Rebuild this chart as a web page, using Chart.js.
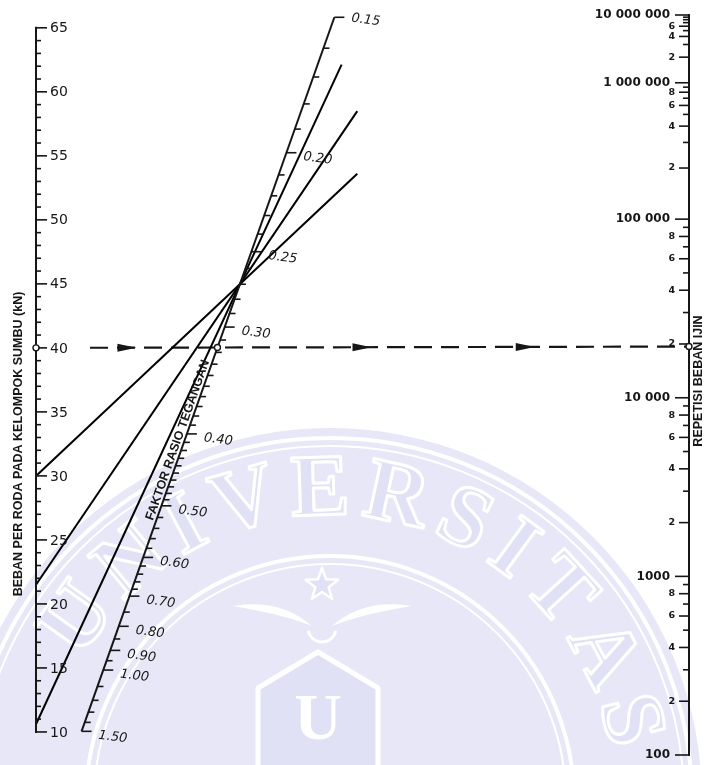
<!DOCTYPE html>
<html>
<head>
<meta charset="utf-8">
<title>Nomogram beban repetisi ijin</title>
<script src="https://cdn.jsdelivr.net/npm/chart.js@4.4.1/dist/chart.umd.min.js"></script>
<style>
  html, body { margin: 0; padding: 0; background: #fff; }
  #wrap { width: 704px; height: 765px; }
</style>
</head>
<body>
<div id="wrap"><canvas id="nomo" width="704" height="765"></canvas></div>
<script>
// ---------------------------------------------------------------
// Scale values
// ---------------------------------------------------------------
// Left scale: load per wheel of the axle group (kN)
const loadLabelValues = [10, 15, 20, 25, 30, 35, 40, 45, 50, 55, 60, 65];
const loadMinorStep = 1;

// Right scale: allowable load repetitions
const repetitionDecades = [100, 1000, 10000, 100000, 1000000, 10000000];
const repetitionDecadeLabels = ['100', '1000', '10 000', '100 000', '1 000 000', '10 000 000'];
const repetitionSubTicks = [2, 3, 4, 5, 6, 7, 8, 9];
const repetitionSubLabels = [2, 4, 6, 8];
const repetitionTopSubLabels = [2, 4, 6];

// Middle (diagonal) scale: stress ratio factor
const frtLabelValues = [0.15, 0.20, 0.25, 0.30, 0.40, 0.50, 0.60, 0.70, 0.80, 0.90, 1.00, 1.50];
const frtLabelTexts = ['0.15', '0.20', '0.25', '0.30', '0.40', '0.50', '0.60', '0.70', '0.80', '0.90', '1.00', '1.50'];
// [from, to, step] of the graduation on the diagonal
const frtGraduation = [[0.15, 0.40, 0.01], [0.40, 0.50, 0.01], [0.50, 0.70, 0.02], [0.70, 1.00, 0.05], [1.00, 1.50, 0.10]];

// Drawn isopleths: load on the left scale, common stress ratio factor,
// and how far across (0 = load scale, 1 = repetition scale) each line runs
const isoLoads = [30, 21.5, 10.6];
const isoFrt = 0.27;
const isoReach = [0.492, 0.492, 0.468];

// Worked example (dashed): 40 kN with a stress ratio factor of 0.316
const exampleLoad = 40;
const exampleFrt = 0.316;
const exampleArrowAt = [0.14, 0.50, 0.75];

// Stress ratio = ratioPerKn * load * FRT^frtExponent
const ratioPerKn = 0.0517;
const frtExponent = 1.05;

// Fatigue relation (stress ratio -> allowable repetitions)
const FAT_A = 11.737, FAT_B = 12.077;               // log N = A - B*SR
const FAT_C = 0.4325, FAT_D = 4.2577, FAT_E = 3.268; // N = (D/(SR-C))^E
const FAT_SWITCH = (FAT_A - FAT_B * 0.55);          // log N at SR = 0.55

function stressRatio(n) {
  const lg = Math.log10(n);
  if (lg <= FAT_SWITCH) return (FAT_A - lg) / FAT_B;
  return FAT_C + FAT_D / Math.pow(n, 1 / FAT_E);
}

// ---------------------------------------------------------------
// Geometry of the Z-chart
// ---------------------------------------------------------------
const loadMin = 8.2, loadMax = 66;
const srTop = stressRatio(repetitionDecades[repetitionDecades.length - 1]);
const srBottom = stressRatio(repetitionDecades[0]);
const loadPerSr = (loadMax - loadMin) / (srBottom - srTop);
const loadAtSr = sr => loadMax - (sr - srTop) * loadPerSr;   // right value -> left units
const diagonalEnd = loadAtSr(0);                              // SR = 0 on the right
const frtFraction = f => 1 / (1 + loadPerSr * ratioPerKn * Math.pow(f, frtExponent));
const frtPoint = f => { const s = frtFraction(f); return { x: s, y: diagonalEnd * s }; };

const frtTicks = [];
frtGraduation.forEach(([a, b, st]) => {
  for (let v = a; v < b - 1e-9; v += st) frtTicks.push(+v.toFixed(3));
});
frtTicks.push(frtLabelValues[frtLabelValues.length - 1]);

const pivot = frtPoint(isoFrt);
const isoDatasets = isoLoads.map((p, i) => {
  const t = isoReach[i];
  return {
    label: 'Beban ' + p + ' kN',
    data: [{ x: 0, y: p }, { x: t, y: p + (pivot.y - p) * t / pivot.x }],
    borderColor: '#000', borderWidth: 2
  };
});

const exampleSr = ratioPerKn * exampleLoad * Math.pow(exampleFrt, frtExponent);
const exampleEnd = loadAtSr(exampleSr);

const INK = '#161616';
const CREST = '#E7E7F8';
const CREST_DARK = '#E1E1F5';

// ---------------------------------------------------------------
// Background crest
// ---------------------------------------------------------------
function drawStar(ctx, x, y, r1, r2) {
  ctx.beginPath();
  for (let i = 0; i < 10; i++) {
    const a = -Math.PI / 2 + i * Math.PI / 5;
    const r = i % 2 ? r2 : r1;
    ctx.lineTo(x + r * Math.cos(a), y + r * Math.sin(a));
  }
  ctx.closePath();
}

function drawCrest(ctx, w, h) {
  const cx = 330, cy = 800, R = 372;
  ctx.save();
  ctx.beginPath(); ctx.rect(0, 0, w, h); ctx.clip();
  ctx.fillStyle = CREST;
  ctx.beginPath(); ctx.arc(cx, cy, R, 0, Math.PI * 2); ctx.fill();
  ctx.strokeStyle = '#fff';
  [[R - 10, 4], [R - 18, 2], [R - 128, 4], [R - 136, 2]].forEach(([r, lw]) => {
    ctx.lineWidth = lw; ctx.beginPath(); ctx.arc(cx, cy, r, 0, Math.PI * 2); ctx.stroke();
  });

  // arched lettering
  const word = 'UNIVERSITAS';
  ctx.font = 'bold 88px "Liberation Serif"';
  const widths = [...word].map(c => ctx.measureText(c).width);
  const rT = 308, a0 = -2.52, a1 = -0.26;
  const total = widths.reduce((a, b) => a + b, 0);
  const gap = ((a1 - a0) * rT - total + (widths[0] + widths[widths.length - 1]) / 2) / (word.length - 1);
  let arc = 0;
  ctx.textAlign = 'center'; ctx.textBaseline = 'middle';
  ctx.lineWidth = 3; ctx.lineJoin = 'round';
  [...word].forEach((c, i) => {
    if (i > 0) arc += widths[i - 1] / 2 + gap + widths[i] / 2;
    const a = a0 + arc / rT;
    ctx.save();
    ctx.translate(cx + rT * Math.cos(a), cy + rT * Math.sin(a));
    ctx.rotate(a + Math.PI / 2);
    ctx.fillStyle = CREST_DARK; ctx.fillText(c, 0, 0);
    ctx.strokeStyle = '#fff'; ctx.strokeText(c, 0, 0);
    ctx.restore();
  });

  // star
  drawStar(ctx, 322, 585, 17, 7);
  ctx.fillStyle = CREST_DARK; ctx.fill();
  ctx.strokeStyle = '#fff'; ctx.lineWidth = 2.5; ctx.stroke();

  // wings
  ctx.fillStyle = '#fff';
  ctx.beginPath();
  ctx.moveTo(232, 606); ctx.quadraticCurveTo(280, 598, 312, 626);
  ctx.quadraticCurveTo(282, 614, 232, 606); ctx.fill();
  ctx.beginPath();
  ctx.moveTo(412, 606); ctx.quadraticCurveTo(364, 598, 332, 626);
  ctx.quadraticCurveTo(362, 614, 412, 606); ctx.fill();
  ctx.strokeStyle = '#fff'; ctx.lineWidth = 3;
  ctx.beginPath(); ctx.arc(322, 628, 14, 0.2, Math.PI - 0.2); ctx.stroke();

  // shield
  ctx.beginPath();
  ctx.moveTo(318, 652); ctx.lineTo(378, 688); ctx.lineTo(378, 770);
  ctx.lineTo(258, 770); ctx.lineTo(258, 688); ctx.closePath();
  ctx.fillStyle = CREST_DARK; ctx.fill();
  ctx.strokeStyle = '#fff'; ctx.lineWidth = 5; ctx.stroke();
  ctx.font = 'bold 66px "Liberation Serif"';
  ctx.fillStyle = '#fff'; ctx.textAlign = 'center'; ctx.textBaseline = 'middle';
  ctx.fillText('U', 318, 722);
  ctx.restore();
}

// ---------------------------------------------------------------
// Scales, graduations and labels
// ---------------------------------------------------------------
const nomogramPlugin = {
  id: 'nomogram',
  beforeDraw(chart) {
    const ctx = chart.ctx;
    ctx.save();
    ctx.fillStyle = '#fff';
    ctx.fillRect(0, 0, chart.width, chart.height);
    ctx.restore();
    drawCrest(ctx, chart.width, chart.height);
  },
  afterDatasetsDraw(chart) {
    const { ctx, scales } = chart;
    const xs = scales.x, ls = scales.load, rs = scales.sr;
    const xl = xs.getPixelForValue(0), xr = xs.getPixelForValue(1);
    const px = p => ({ x: xs.getPixelForValue(p.x), y: ls.getPixelForValue(p.y) });
    ctx.save();
    ctx.strokeStyle = INK; ctx.fillStyle = INK; ctx.lineCap = 'butt';

    // ---- left scale ----
    const yTop = ls.getPixelForValue(loadLabelValues[loadLabelValues.length - 1]);
    const yBot = ls.getPixelForValue(loadLabelValues[0]);
    ctx.lineWidth = 2;
    ctx.beginPath(); ctx.moveTo(xl, yTop - 1); ctx.lineTo(xl, yBot + 1); ctx.stroke();
    ctx.lineWidth = 1.6;
    for (let v = loadLabelValues[0]; v <= loadLabelValues[loadLabelValues.length - 1]; v += loadMinorStep) {
      const y = ls.getPixelForValue(v);
      const len = loadLabelValues.includes(v) ? 11 : 5;
      ctx.beginPath(); ctx.moveTo(xl, y); ctx.lineTo(xl + len, y); ctx.stroke();
    }
    ctx.font = '14px "DejaVu Sans"';
    ctx.textAlign = 'left'; ctx.textBaseline = 'middle';
    loadLabelValues.forEach(v => {
      const y = ls.getPixelForValue(v);
      if (v === exampleLoad) {
        ctx.save(); ctx.fillStyle = '#fff';
        ctx.fillRect(xl + 4, y - 6, 42, 12);
        ctx.restore();
        ctx.beginPath(); ctx.moveTo(xl, y); ctx.lineTo(xl + 11, y); ctx.stroke();
      }
      ctx.fillText(String(v), xl + 14, y + 1);
    });

    // ---- right scale ----
    const rTop = rs.getPixelForValue(srTop), rBot = rs.getPixelForValue(srBottom);
    ctx.lineWidth = 2;
    ctx.beginPath(); ctx.moveTo(xr, rTop - 1); ctx.lineTo(xr, rBot + 1); ctx.stroke();
    ctx.lineWidth = 1.6;
    repetitionDecades.forEach((d, i) => {
      const y = rs.getPixelForValue(stressRatio(d));
      ctx.beginPath(); ctx.moveTo(xr - 14, y); ctx.lineTo(xr, y); ctx.stroke();
      ctx.font = 'bold 12px "DejaVu Sans"';
      ctx.textAlign = 'right'; ctx.textBaseline = 'middle';
      ctx.fillText(repetitionDecadeLabels[i], xr - 19, y);
      if (i === repetitionDecades.length - 1) return;
      const labelled = i === repetitionDecades.length - 2 ? repetitionTopSubLabels : repetitionSubLabels;
      repetitionSubTicks.forEach(k => {
        const yy = rs.getPixelForValue(stressRatio(k * d));
        const hasLabel = labelled.includes(k);
        const len = hasLabel ? 10 : 6;
        ctx.beginPath(); ctx.moveTo(xr - len, yy); ctx.lineTo(xr, yy); ctx.stroke();
        if (hasLabel) {
          ctx.font = 'bold 9.5px "DejaVu Sans"';
          ctx.fillText(String(k), xr - 14, yy);
        }
      });
    });

    // ---- diagonal scale ----
    ctx.lineWidth = 1.6;
    frtTicks.forEach(v => {
      const p = px(frtPoint(v));
      const major = frtLabelValues.some(t => Math.abs(t - v) < 1e-6);
      ctx.beginPath(); ctx.moveTo(p.x, p.y); ctx.lineTo(p.x + (major ? 10 : 6), p.y); ctx.stroke();
    });
    ctx.font = 'italic 13px "DejaVu Sans"';
    ctx.textAlign = 'left'; ctx.textBaseline = 'middle';
    frtLabelValues.forEach((v, i) => {
      const p = px(frtPoint(v));
      ctx.save();
      ctx.translate(p.x + 17, p.y + (i === 0 ? 1 : 4));
      ctx.rotate(0.13);
      ctx.fillText(frtLabelTexts[i], 0, 0);
      ctx.restore();
    });

    // diagonal title, running along the scale
    const pA = px(frtPoint(frtLabelValues[frtLabelValues.length - 1]));
    const pB = px(frtPoint(frtLabelValues[0]));
    const ang = Math.atan2(pB.y - pA.y, pB.x - pA.x);
    const pT = px(frtPoint(0.41));
    ctx.save();
    ctx.translate(pT.x, pT.y);
    ctx.rotate(ang);
    ctx.font = 'bold 12.5px "Liberation Sans"';
    ctx.textAlign = 'center'; ctx.textBaseline = 'alphabetic';
    ctx.fillText('FAKTOR RASIO TEGANGAN', 0, -3);
    ctx.restore();

    // ---- worked example markers ----
    const e0 = { x: xl, y: ls.getPixelForValue(exampleLoad) };
    const e1 = { x: xr, y: ls.getPixelForValue(exampleEnd) };
    exampleArrowAt.forEach(f => {
      const x = e0.x + (e1.x - e0.x) * f;
      const y = e0.y + (e1.y - e0.y) * f;
      ctx.beginPath();
      ctx.moveTo(x + 9, y);
      ctx.lineTo(x - 10, y - 4);
      ctx.lineTo(x - 10, y + 4);
      ctx.closePath(); ctx.fill();
    });
    const eM = px(frtPoint(exampleFrt));
    [e0, eM, e1].forEach(p => {
      ctx.beginPath(); ctx.arc(p.x, p.y, 3, 0, Math.PI * 2);
      ctx.fillStyle = '#fff'; ctx.fill();
      ctx.lineWidth = 1.4; ctx.strokeStyle = INK; ctx.stroke();
    });
    ctx.fillStyle = INK;

    // ---- scale titles ----
    ctx.font = 'bold 12.5px "Liberation Sans"';
    ctx.textAlign = 'center'; ctx.textBaseline = 'middle';
    ctx.save(); ctx.translate(18.5, 444); ctx.rotate(-Math.PI / 2);
    ctx.fillText('BEBAN PER RODA PADA KELOMPOK SUMBU (kN)', 0, 0);
    ctx.restore();
    ctx.save(); ctx.translate(698.5, 381); ctx.rotate(-Math.PI / 2);
    ctx.fillText('REPETISI BEBAN IJIN', 0, 0);
    ctx.restore();

    ctx.restore();
  }
};

// ---------------------------------------------------------------
// Chart
// ---------------------------------------------------------------
const lineDefaults = { showLine: true, pointRadius: 0, fill: false, clip: false, xAxisID: 'x', yAxisID: 'load', tension: 0 };

new Chart(document.getElementById('nomo'), {
  type: 'scatter',
  data: {
    datasets: [
      Object.assign({
        label: 'Faktor rasio tegangan',
        data: [frtPoint(frtLabelValues[0]), frtPoint(frtLabelValues[frtLabelValues.length - 1])],
        borderColor: INK, borderWidth: 2
      }, lineDefaults),
      ...isoDatasets.map(d => Object.assign(d, lineDefaults)),
      Object.assign({
        label: 'Contoh',
        data: [{ x: 0, y: exampleLoad }, { x: 1, y: exampleEnd }],
        borderColor: INK, borderWidth: 2.2, borderDash: [18, 9]
      }, lineDefaults)
    ]
  },
  options: {
    responsive: false,
    animation: false,
    devicePixelRatio: 1,
    events: [],
    layout: { padding: { left: 36, right: 15, top: 15, bottom: 10 } },
    plugins: { legend: { display: false }, tooltip: { enabled: false } },
    scales: {
      x: { type: 'linear', min: 0, max: 1, display: false },
      load: { axis: 'y', type: 'linear', position: 'left', min: loadMin, max: loadMax, display: false },
      sr: { axis: 'y', type: 'linear', position: 'right', reverse: true, min: srTop, max: srBottom, display: false }
    }
  },
  plugins: [nomogramPlugin]
});
</script>
</body>
</html>
